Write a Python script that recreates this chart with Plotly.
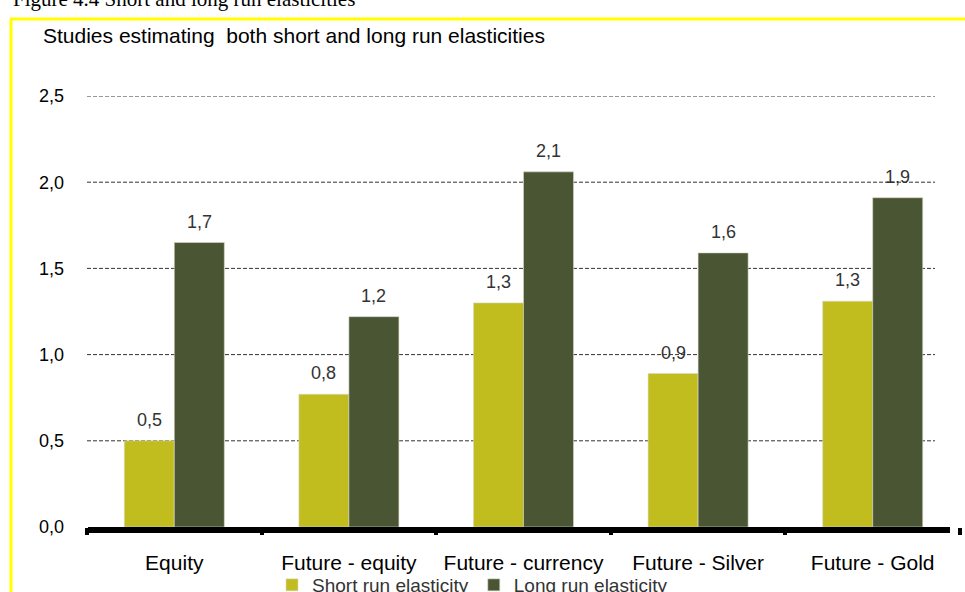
import plotly.graph_objects as go

categories = ["Equity", "Future - equity", "Future - currency", "Future - Silver", "Future - Gold"]
short_run = [0.50, 0.77, 1.30, 0.89, 1.31]
long_run = [1.65, 1.22, 2.06, 1.59, 1.91]
short_labels = ["0,5", "0,8", "1,3", "0,9", "1,3"]
long_labels = ["1,7", "1,2", "2,1", "1,6", "1,9"]
y_ticks = [0, 0.5, 1.0, 1.5, 2.0, 2.5]
y_tick_labels = ["0,0", "0,5", "1,0", "1,5", "2,0", "2,5"]

W, H = 965, 592
L, R, T, B = 87, 5, 96, 65
pw, ph = W - L - R, H - T - B

def px_x(x):
    return (x - L) / pw

def px_y(y):
    return (H - B - y) / ph

SHORT_COLOR = "#c2bd1e"
LONG_COLOR = "#4a5633"

fig = go.Figure()
fig.add_trace(go.Bar(x=categories, y=short_run, name="Short run elasticity",
                     marker=dict(color=SHORT_COLOR, line=dict(color="#d9d9c8", width=0.6))))
fig.add_trace(go.Bar(x=categories, y=long_run, name="Long run elasticity",
                     marker=dict(color=LONG_COLOR, line=dict(color="#d9d9c8", width=0.6))))

font_main = "Liberation Sans, Arial, sans-serif"

annotations = []
for c, v, t in zip(categories, short_run, short_labels):
    annotations.append(dict(x=c, y=v, xref="x", yref="y", text=t, showarrow=False,
                            xshift=-25, yshift=21, font=dict(family=font_main, size=18, color="#333333")))
for c, v, t in zip(categories, long_run, long_labels):
    annotations.append(dict(x=c, y=v, xref="x", yref="y", text=t, showarrow=False,
                            xshift=25, yshift=21, font=dict(family=font_main, size=18, color="#333333")))

annotations.append(dict(x=px_x(41), y=px_y(35), xref="paper", yref="paper", xanchor="left", yanchor="middle",
                        text="Studies estimating  both short and long run elasticities", showarrow=False,
                        font=dict(family=font_main, size=21, color="#000000")))
annotations.append(dict(x=px_x(11), y=px_y(13), xref="paper", yref="paper", xanchor="left", yanchor="bottom",
                        text="Figure 4.4 Short and long run elasticities", showarrow=False,
                        font=dict(family="Liberation Serif, Times New Roman, serif", size=21, color="#000000")))

shapes = []
# gridlines
for yv in y_ticks[1:]:
    shapes.append(dict(type="line", xref="paper", yref="y", x0=0, x1=px_x(935), y0=yv, y1=yv,
                       line=dict(color="#333333", width=1, dash="4px,2px"), layer="below"))
# thick base axis
shapes.append(dict(type="rect", xref="paper", yref="paper", x0=px_x(88), x1=px_x(950),
                   y0=px_y(533), y1=px_y(527),
                   fillcolor="#000000", line=dict(width=0), layer="above"))
# yellow frame
shapes.append(dict(type="line", xref="paper", yref="paper", x0=px_x(11), x1=px_x(11),
                   y0=px_y(19), y1=px_y(600), line=dict(color="#ffff00", width=3)))
shapes.append(dict(type="line", xref="paper", yref="paper", x0=px_x(10), x1=px_x(970),
                   y0=px_y(19), y1=px_y(19), line=dict(color="#ffff00", width=3)))

fig.update_layout(
    width=W, height=H,
    margin=dict(l=L, r=R, t=T, b=B, autoexpand=False),
    paper_bgcolor="white", plot_bgcolor="white",
    barmode="group", bargap=0.427, bargroupgap=0,
    showlegend=True,
    legend=dict(orientation="h", xref="container", yref="container", x=272 / W, y=1 - 566 / H,
                xanchor="left", yanchor="top", font=dict(family=font_main, size=19, color="#333333"),
                itemwidth=30, tracegroupgap=0, bgcolor="rgba(0,0,0,0)"),
    annotations=annotations,
    shapes=shapes,
    xaxis=dict(showgrid=False, showline=False, ticks="outside", tickson="boundaries", ticklen=7,
               tickwidth=4, tickcolor="#000000", ticklabelstandoff=21,
               tickfont=dict(family=font_main, size=21, color="#000000"), fixedrange=True),
    yaxis=dict(range=[0, 2.5], tickvals=y_ticks, ticktext=y_tick_labels, showgrid=False,
               zeroline=False, showline=False, ticks="", ticklabelstandoff=22,
               tickfont=dict(family=font_main, size=18, color="#000000"), fixedrange=True),
)

fig.write_html("out.html", config={"displayModeBar": False},
               post_script="document.body.style.margin='0px';")
